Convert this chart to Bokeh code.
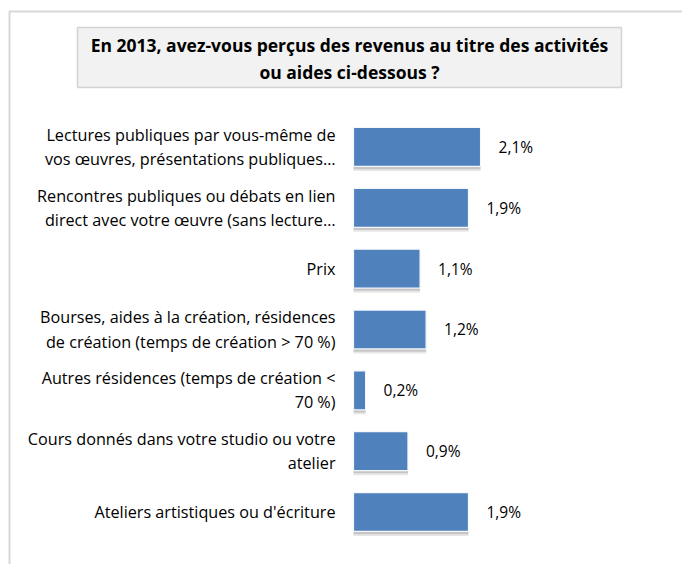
from bokeh.plotting import figure
from bokeh.models import ColumnDataSource, Range1d, BoxAnnotation, Label, LabelSet
from bokeh.core.properties import value
from bokeh.transform import dodge
from bokeh.embed import file_html
from bokeh.resources import INLINE

categories = [
    "Lectures publiques par vous-même de\nvos œuvres, présentations publiques…",
    "Rencontres publiques ou débats en lien\ndirect avec votre œuvre (sans lecture…",
    "Prix",
    "Bourses, aides à la création, résidences\nde création (temps de création > 70 %)",
    "Autres résidences (temps de création <\n70 %)",
    "Cours donnés dans votre studio ou votre\natelier",
    "Ateliers artistiques ou d'écriture",
]
values = [2.1, 1.9, 1.1, 1.2, 0.2, 0.9, 1.9]
value_labels = ["2,1%", "1,9%", "1,1%", "1,2%", "0,2%", "0,9%", "1,9%"]
title_text = "En 2013, avez-vous perçus des revenus au titre des activités\nou aides ci-dessous ?"

FONT = "Open Sans"

positions = list(range(len(categories)))  # 0 = top row
src = ColumnDataSource(dict(cat=categories, pos=positions, val=values, lab=value_labels, zero=[0] * len(values)))

W, H = 682, 564
p = figure(width=W, height=H, output_backend="svg", toolbar_location=None,
           x_range=Range1d(-5.835, 5.438), y_range=Range1d(6.863, -2.408),
           min_border=0, x_axis_type=None, y_axis_type=None)
p.outline_line_color = None
p.grid.visible = False

# outer frame and title box
outer = BoxAnnotation(left=9, right=800, top=11, bottom=800,
                      left_units="canvas", right_units="canvas", top_units="canvas", bottom_units="canvas",
                      fill_alpha=0, line_color="#7f7f7f", line_width=2, level="underlay")
p.add_layout(outer)
tbox = BoxAnnotation(left=77, right=621, top=27, bottom=87,
                     left_units="canvas", right_units="canvas", top_units="canvas", bottom_units="canvas",
                     fill_color="#f2f2f2", fill_alpha=1, line_color="#7f7f7f", line_width=1.5, level="underlay")
p.add_layout(tbox)
tl = Label(x=349, y=58, x_units="canvas", y_units="canvas", text=title_text,
           text_align="center", text_baseline="middle", text_font=FONT, text_font_style="bold",
           text_font_size="17.5px", text_color="#000000", text_line_height=1.13)
p.add_layout(tl)

# soft shadow + bars
p.hbar(y=dodge("pos", 0.075), left="zero", right="val", height=0.64, source=src,
       fill_color="#b0b0b0", fill_alpha=0.3, line_color=None)
p.hbar(y=dodge("pos", 0.045), left="zero", right="val", height=0.64, source=src,
       fill_color="#8a8a8a", fill_alpha=0.35, line_color=None)
p.hbar(y="pos", left="zero", right="val", height=0.64, source=src,
       fill_color="#4F81BD", line_color="#f4f7fb", line_width=1.2)

# category labels
p.text(x="zero", y="pos", text="cat", source=src, x_offset=-18,
       text_align="right", text_baseline="middle", text_font=value(FONT),
       text_font_size="16.2px", text_color="#000000", text_line_height=1.1)

labels = LabelSet(x="val", y="pos", text="lab", source=src, x_offset=18,
                  text_baseline="middle", text_font=value(FONT), text_font_size="15.5px",
                  text_color="#000000")
p.add_layout(labels)

open("out.html", "w").write(file_html(p, INLINE))
